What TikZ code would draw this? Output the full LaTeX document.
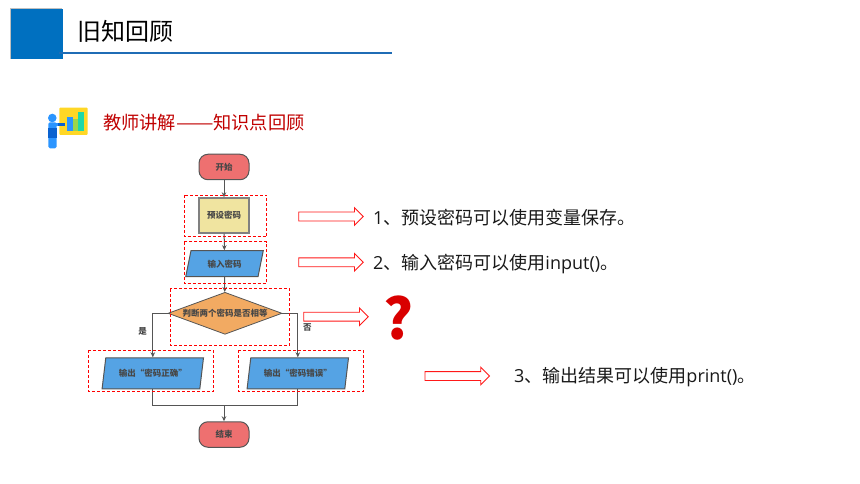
\documentclass[tikz,border=0pt]{standalone}
\usepackage{fontspec}
\setmainfont{Noto Sans CJK SC}
\newfontfamily\latinfont{Open Sans}
\usetikzlibrary{arrows.meta, shapes.geometric, shapes.arrows}
\definecolor{SlideBlue}{HTML}{0070C0}
\definecolor{LineBlue}{HTML}{1F6CB5}
\definecolor{TextRed}{HTML}{C00000}
\definecolor{FlowRed}{HTML}{EE7070}
\definecolor{FlowYellow}{HTML}{F0E4A0}
\definecolor{FlowBlue}{HTML}{55A3E4}
\definecolor{FlowOrange}{HTML}{F2AA62}
\definecolor{FlowGray}{HTML}{555555}
\definecolor{IconYellow}{HTML}{FFD726}
\definecolor{IconLight}{HTML}{2B95FF}
\definecolor{IconDark}{HTML}{0A62D0}
\definecolor{IconGreen}{HTML}{9BD64A}
\definecolor{IconTeal}{HTML}{1FD8A8}
\tikzset{
    flowtext/.style={font=\fontsize{8.5}{10}\bfseries\selectfont, text=black!72, inner sep=0pt},
    terminal/.style={flowtext, draw=FlowGray, line width=1pt, fill=FlowRed, rounded corners=9pt, minimum width=50pt, minimum height=25.5pt},
    ioshape/.style={flowtext, draw=FlowGray, line width=1pt, fill=FlowBlue, trapezium, trapezium left angle=72, trapezium right angle=108, trapezium stretches=true},
    flowline/.style={draw=FlowGray, line width=1pt, -{Stealth[length=5pt, width=4.5pt]}},
    plainline/.style={draw=FlowGray, line width=1pt},
    markbox/.style={draw=red, densely dashed, line width=0.7pt},
    hollowarrow/.style={single arrow, draw=red!90, fill=white, line width=0.9pt, minimum height=64.5pt, inner xsep=0pt, inner ysep=4pt, single arrow head extend=4.3pt, single arrow tip angle=90},
    sidetext/.style={font=\fontsize{18}{22}\selectfont, text=black!90, anchor=west, inner sep=0pt, text height=14pt, text depth=4pt},
}
\begin{document}
\begin{tikzpicture}[>=Stealth, x=1pt, y=-1pt]
    \useasboundingbox (0,0) rectangle (860,484);

    % Title bar
    \fill[black!25] (9.5,8) rectangle (62,59.5);
    \fill[SlideBlue] (10.5,9) rectangle (62.5,58.7);
    \draw[LineBlue, line width=1.8pt] (59,53) -- (392,53);
    \node[anchor=west, inner sep=0pt, font=\fontsize{24}{28}\selectfont] (title) at (77,31) {旧知回顾};

    % Teacher icon
    \fill[IconYellow, rounded corners=1pt] (59.3,107.7) rectangle (87.7,135);
    \fill[IconLight] (67.3,116.7) rectangle (72.7,130.7);
    \fill[IconGreen] (72.7,119.3) rectangle (78.3,130.7);
    \fill[IconTeal] (78.3,112.3) rectangle (84,130.7);
    \fill[IconLight] (52.3,118) circle (4.3pt);
    \fill[IconLight, rounded corners=1.5pt] (48.3,122.3) rectangle (56.7,148.3);
    \fill[IconDark] (48.3,127.7) rectangle (56.7,138);
    \fill[IconLight] (56,123.3) rectangle (58,126);
    \fill[IconDark] (58,123.3) rectangle (65,126);

    % Heading
    \node[anchor=west, inner sep=0pt, text=TextRed, font=\fontsize{18.2}{22}\selectfont] (heading) at (103,122.5) {教师讲解\scalebox{1.23}[1]{——}知识点回顾};

    % Flow chart nodes
    \node[terminal] (start) at (224,167) {开始};
    \node[flowtext, draw=gray, line width=1.4pt, fill=FlowYellow, minimum width=50pt, minimum height=35pt] (preset) at (224,215.5) {预设密码};
    \node[ioshape, minimum width=77.6pt, minimum height=26pt] (input) at (224.5,263.7) {输入密码};
    \node[flowtext, draw=FlowGray, line width=0.8pt, fill=FlowOrange, diamond, aspect=2.7, minimum width=114pt, minimum height=42pt] (judge) at (225,313.3) {判断两个密码是否相等};
    \node[ioshape, minimum width=101.7pt, minimum height=31pt] (right) at (152.8,373.3) {输出“密码正确”};
    \node[ioshape, minimum width=101.7pt, minimum height=31pt] (wrong) at (297.8,373.3) {输出“密码错误”};
    \node[terminal] (stop) at (224,434.5) {结束};
    \coordinate (merge) at (224,405.3);

    % Connectors
    \draw[flowline] (start) -- (preset);
    \draw[flowline] (preset) -- (input);
    \draw[flowline] (input) -- (judge);
    \draw[flowline] (judge.west) -| (right.north);
    \draw[flowline] (judge.east) -| (wrong.north);
    \draw[plainline] (right.south) |- (merge);
    \draw[plainline] (wrong.south) |- (merge);
    \draw[flowline] (merge) -- (stop);
    \node[flowtext] (yes) at (142.7,331) {是};
    \node[flowtext] (no) at (307.3,327.7) {否};

    % Red dashed marks
    \draw[markbox] (184.3,195) rectangle (266.7,236.7);
    \draw[markbox] (184.3,241.7) rectangle (266.7,283.3);
    \draw[markbox] (170.3,288.7) rectangle (289.7,345);
    \draw[markbox] (88.3,350.3) rectangle (213.3,391.7);
    \draw[markbox] (238.3,350.3) rectangle (363.3,391.7);

    % Hollow arrows
    \node[hollowarrow] (arrow1) at (328.8,216.5) {};
    \node[hollowarrow] (arrow2) at (328.8,262.3) {};
    \node[hollowarrow] (arrow3) at (333.8,316.7) {};
    \node[hollowarrow] (arrow4) at (455,376) {};

    % Notes
    \node[sidetext] (note1) at (373,219) {\latinfont 1\normalfont、预设密码可以使用变量保存。};
    \node[sidetext] (note2) at (373,264) {\latinfont 2\normalfont、输入密码可以使用{\latinfont input()}。};
    \node[sidetext] (note3) at (514,377) {\latinfont 3\normalfont、输出结果可以使用{\latinfont print()}。};
    \node[inner sep=0pt, text=red!85!black, font=\fontsize{56}{60}\bfseries\selectfont] (mark) at (398.5,318) {?};
\end{tikzpicture}
\end{document}
